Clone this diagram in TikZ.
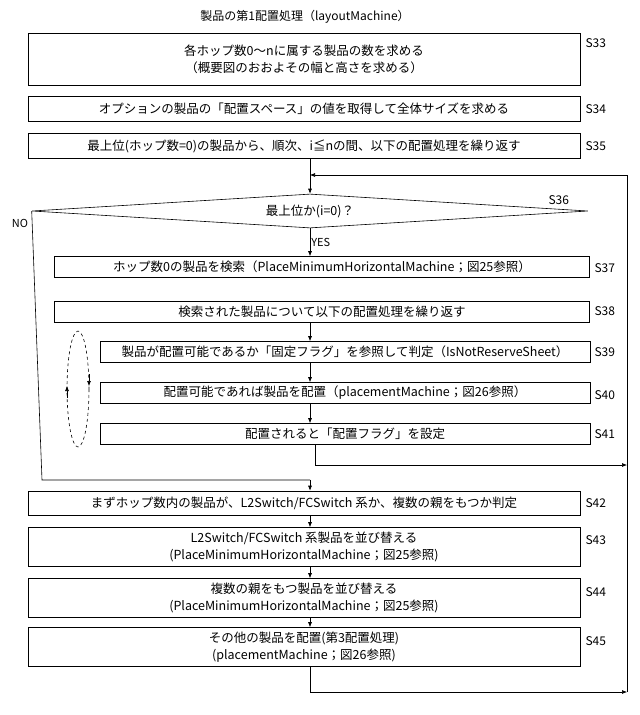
\documentclass[tikz,border=0pt]{standalone}
\usepackage{fontspec}
\setmainfont{Noto Sans CJK JP}
\usetikzlibrary{arrows.meta,shapes.geometric}
\begin{document}
\begin{tikzpicture}[x=1pt,y=-1pt,
  bx/.style={draw,line width=0.6pt,inner sep=0pt,align=center,font=\fontsize{12.5}{17}\selectfont},
  lb/.style={anchor=west,font=\fontsize{12}{13}\selectfont},
  ar/.style={-{Latex[length=5pt,width=4pt]},line width=0.6pt},
  ln/.style={line width=0.6pt}]
\useasboundingbox (0,0) rectangle (640,715);
\node (title) at (305,17) {\fontsize{12}{13}\selectfont 製品の第1配置処理（layoutMachine）};
\node[bx,minimum width=552,minimum height=52] (s33) at (304,59) {各ホップ数0～nに属する製品の数を求める\\（概要図のおおよその幅と高さを求める）};
\node[bx,minimum width=552,minimum height=25] (s34) at (304,109) {オプションの製品の「配置スペース」の値を取得して全体サイズを求める};
\node[bx,minimum width=552,minimum height=25] (s35) at (304,146) {最上位(ホップ数=0)の製品から、順次、i≦nの間、以下の配置処理を繰り返す};
\node[draw,diamond,aspect=16,line width=0.6pt,minimum width=556,minimum height=34,inner sep=0pt,font=\fontsize{12.5}{14}\selectfont] (s36) at (310,211) {最上位か(i=0)？};
\node[bx,minimum width=535,minimum height=21] (s37) at (322,267) {ホップ数0の製品を検索（PlaceMinimumHorizontalMachine；図25参照）};
\node[bx,minimum width=535,minimum height=21] (s38) at (322,312) {検索された製品について以下の配置処理を繰り返す};
\node[bx,minimum width=490,minimum height=21] (s39) at (345,352) {製品が配置可能であるか「固定フラグ」を参照して判定（IsNotReserveSheet）};
\node[bx,minimum width=490,minimum height=21] (s40) at (345,393) {配置可能であれば製品を配置（placementMachine；図26参照）};
\node[bx,minimum width=490,minimum height=21] (s41) at (345,434) {配置されると「配置フラグ」を設定};
\node[bx,minimum width=552,minimum height=24] (s42) at (304,503) {まずホップ数内の製品が、L2Switch/FCSwitch 系か、複数の親をもつか判定};
\node[bx,minimum width=552,minimum height=39] (s43) at (304,547) {L2Switch/FCSwitch 系製品を並び替える\\(PlaceMinimumHorizontalMachine；図25参照)};
\node[bx,minimum width=552,minimum height=39] (s44) at (304,598) {複数の親をもつ製品を並び替える\\(PlaceMinimumHorizontalMachine；図25参照)};
\node[bx,minimum width=552,minimum height=39] (s45) at (304,647) {その他の製品を配置(第3配置処理)\\(placementMachine；図26参照)};
\node[lb] (l33) at (582,43) {S33};
\node[lb] (l34) at (582,109) {S34};
\node[lb] (l35) at (582,146) {S35};
\node[lb] (l36) at (545,200) {S36};
\node[lb] (l37) at (591,268) {S37};
\node[lb] (l38) at (591,311) {S38};
\node[lb] (l39) at (591,352) {S39};
\node[lb] (l40) at (591,395) {S40};
\node[lb] (l41) at (591,434) {S41};
\node[lb] (l42) at (582,503) {S42};
\node[lb] (l43) at (582,540) {S43};
\node[lb] (l44) at (582,592) {S44};
\node[lb] (l45) at (582,641) {S45};
\node[font=\fontsize{11}{12}\selectfont] (no) at (20,223) {NO};
\coordinate (c0) at (310,158);
\coordinate (top) at (310,175);
\coordinate (rt) at (627,175);
\coordinate (rb) at (627,692);
\coordinate (nl) at (42,480);
\coordinate (nm) at (310,480);
\coordinate (a41) at (315,465);
\coordinate (a41r) at (627,465);
\coordinate (bm) at (310,692);
\draw[ar] (s35.south -| c0) -- (s36.north);
\draw[ar] (rt) -- (top);
\draw[ln] (rt) -- (rb);
\draw[ar] (s36.south) -- node[right,inner sep=1pt,font=\fontsize{11}{12}\selectfont]{YES} (s36.south |- s37.north);
\draw[ar] (s38.south -| s36.south) -- (s39.north -| s36.south);
\draw[ar] (s39.south -| s36.south) -- (s40.north -| s36.south);
\draw[ar] (s40.south -| s36.south) -- (s41.north -| s36.south);
\draw[ln] (s41.south -| a41) -- (a41);
\draw[ar] (a41) -- (a41r);
\draw[ln] (s36.west) -- (nl) -- (nm);
\draw[ar] (nm) -- (s42.north -| nm);
\draw[ar] (s42.south -| nm) -- (s43.north -| nm);
\draw[ar] (s43.south -| nm) -- (s44.north -| nm);
\draw[ar] (s44.south -| nm) -- (s45.north -| nm);
\draw[ln] (s45.south -| nm) -- (bm);
\draw[ar] (bm) -- (rb);
\draw[ln,dashed] (78,389) ellipse [x radius=11, y radius=58];
\draw[ar] (67,398) -- (67,386);
\draw[ar] (89,374) -- (89,386);
\end{tikzpicture}
\end{document}
